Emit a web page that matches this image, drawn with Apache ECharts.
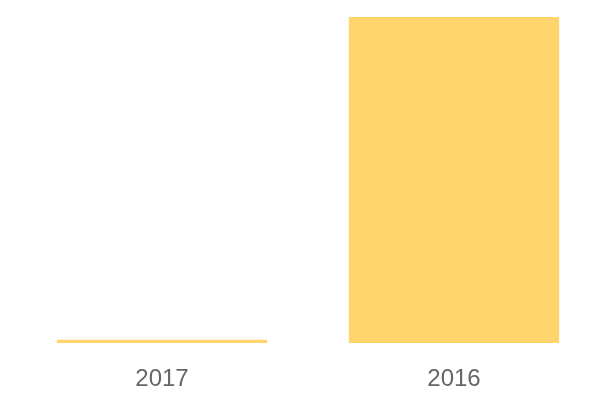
<!DOCTYPE html>
<html>
<head>
<meta charset="utf-8">
<script src="https://cdn.jsdelivr.net/npm/echarts@6/dist/echarts.min.js"></script>
<style>
  html, body { margin: 0; padding: 0; background: #fff; }
  #chart { width: 600px; height: 400px; }
</style>
</head>
<body>
<div id="chart"></div>
<script>
// 年份与数值
var years = ["2017", "2016"];
var values = [1, 100];

var chart = echarts.init(document.getElementById("chart"));
var option = {
  animation: false,
  grid: { left: 16, right: 0, top: 17, bottom: 57 },
  xAxis: {
    type: "category",
    data: years,
    axisLine: { show: false },
    axisTick: { show: false },
    axisLabel: {
      color: "#666",
      fontSize: 24,
      fontFamily: "Liberation Sans, Arial, sans-serif",
      margin: 24
    }
  },
  yAxis: {
    type: "value",
    min: 0,
    max: 100,
    show: false
  },
  series: [
    {
      type: "bar",
      data: values,
      barCategoryGap: "28%",
      itemStyle: { color: "#FED46B" }
    }
  ]
};
chart.setOption(option);
</script>
</body>
</html>
